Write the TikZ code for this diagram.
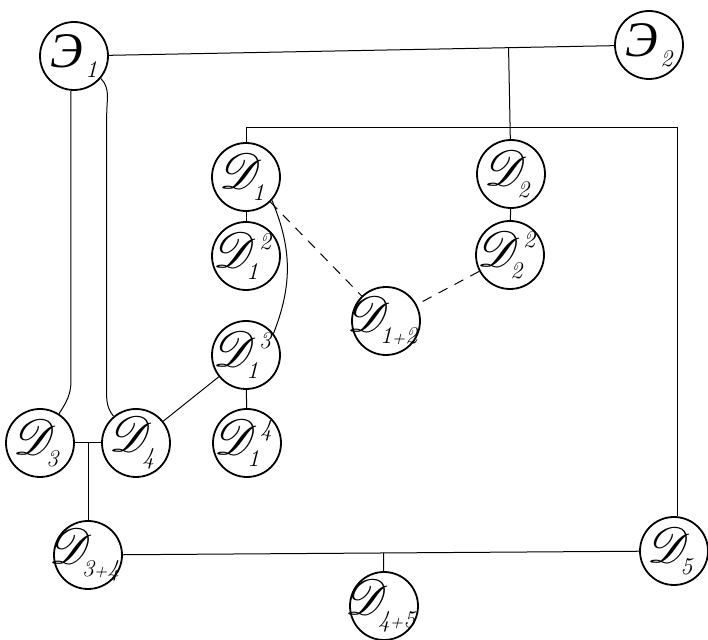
\documentclass[tikz,border=0pt]{standalone}
\usepackage{fontspec}
\usepackage{mathrsfs}
\usetikzlibrary{positioning,calc}
\newfontfamily\cyrfont{Liberation Serif}
\newcommand{\dlab}[2]{\makebox[0pt]{\kern-3pt$\mathscr{D}^{\kern1pt\mbox{\large\itshape #2}}_{\kern-3pt\mbox{\large\itshape #1}}$}}
\newcommand{\elab}[1]{\makebox[0pt]{{\cyrfont\itshape Э}\kern1pt\raisebox{-5pt}{\large\itshape #1}}}

\tikzset{
  unit/.style={draw, circle, line width=0.9pt, minimum size=34pt, inner sep=0pt, font=\Huge},
  link/.style={line width=0.5pt},
  weak/.style={link, dash pattern=on 5pt off 4pt},
}

\begin{document}
\begin{tikzpicture}[x=0.5pt,y=-0.5pt]
\useasboundingbox (0,0) rectangle (708,640);
\node[unit] (E1) at (74,56) {\elab{1}};
\node[unit] (E2) at (649,45) {\elab{2}};
\node[unit] (D1) at (246,177) {\dlab{1}{}};
\node[unit] (D1s2) at (246,256) {\dlab{1}{2}};
\node[unit] (D1s3) at (246,355) {\dlab{1}{3}};
\node[unit] (D1s4) at (247,443) {\dlab{1}{4}};
\node[unit] (D2) at (511,174) {\dlab{2}{}};
\node[unit] (D2s2) at (510,255) {\dlab{2}{2}};
\node[unit] (D1p2) at (386,321) {\dlab{1{\footnotesize+}2}{}};
\node[unit] (D3) at (40,443) {\dlab{3}{}};
\node[unit] (D4) at (136,443) {\dlab{4}{}};
\node[unit] (D3p4) at (88,555) {\dlab{3{\footnotesize+}4}{}};
\node[unit] (D4p5) at (384,606) {\dlab{4{\footnotesize+}5}{}};
\node[unit] (D5) at (674,551) {\dlab{5}{}};
\coordinate (bus) at (677,128);

\draw[link] (E1) -- (E2);
\draw[link] (D2) -- ($(E1)!(D2)!(E2)$);
\draw[link] (D1) |- (bus) -- (bus |- D5.north);
\draw[link] (D1) -- (D1s2);
\draw[link] (D2) -- (D2s2);
\draw[link] (D1s3) -- (D1s4);
\draw[link] (D1.-42) to[bend left=22] (D1s3.38);
\draw[weak] (D1) -- (D1p2);
\draw[weak] (D2s2) -- (D1p2);
\draw[link] (D1s3) -- (D4);
\draw[link] (E1.265) -- ++(0,290) to[out=-90,in=57] (D3.57);
\draw[link] (E1.-40) to[out=-45,in=90] ++(6,35) -- ++(0,270) to[out=-90,in=130] (D4.130);
\draw[link] (D3) -- (D4);
\draw[link] ($(D3)!0.5!(D4)$) -- (D3p4);
\draw[link] (D3p4) -- (D5);
\draw[link] ($(D3p4)!(D4p5)!(D5)$) -- (D4p5);
\end{tikzpicture}
\end{document}
